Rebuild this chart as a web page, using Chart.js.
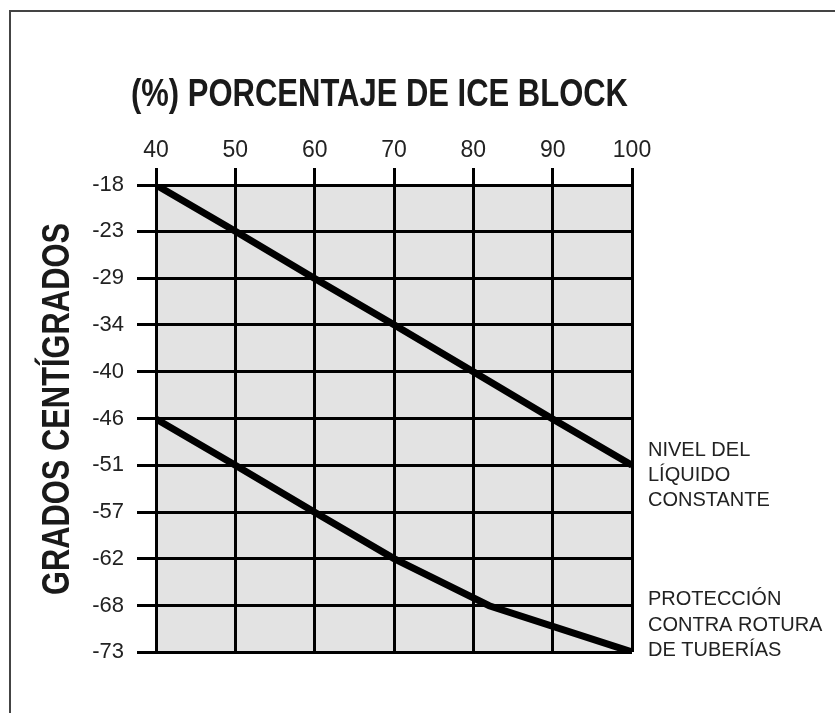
<!DOCTYPE html>
<html>
<head>
<meta charset="utf-8">
<script src="https://cdn.jsdelivr.net/npm/chart.js@4"></script>
<style>
    body { margin: 0; background: #fff; }
    #wrap { position: relative; width: 835px; height: 713px; }
    #frame { position: absolute; left: 9px; top: 10px; right: 0; bottom: 0;
             border-left: 2px solid #444; border-top: 2px solid #444; }
    #chart { position: absolute; left: 0; top: 0; }
</style>
</head>
<body>
<div id="wrap">
    <div id="frame"></div>
    <canvas id="chart" width="835" height="713"></canvas>
</div>
<script>
// x ticks (percentage)
const xTicks = [40, 50, 60, 70, 80, 90, 100];

// y ticks, degrees C (evenly spaced rows) and the printed labels
const yTickValues = [-17.8, -23.3, -28.9, -34.4, -40, -45.6, -51.1, -56.7, -62.2, -67.8, -73.3];
const yTickLabels = ['-18', '-23', '-29', '-34', '-40', '-46', '-51', '-57', '-62', '-68', '-73'];

// Nivel del liquido constante
const levelPct = [40, 50, 60, 70, 80, 90, 100];
const levelTemps = [-17.8, -23.3, -28.9, -34.4, -40, -45.6, -51.1];

// Proteccion contra rotura de tuberias
const protectPct = [40, 50, 60, 70, 82, 100];
const protectTemps = [-45.6, -51.1, -56.7, -62.2, -67.8, -73.3];

const titleText = '(%) PORCENTAJE DE ICE BLOCK';
const yTitleText = 'GRADOS CENTÍGRADOS';
const levelNote = ['NIVEL DEL', 'LÍQUIDO', 'CONSTANTE'];
const protectNote = ['PROTECCIÓN', 'CONTRA ROTURA', 'DE TUBERÍAS'];

const plain = "'Liberation Sans', Arial, Helvetica, sans-serif";

// bold text squeezed to a given width (no narrow font installed)
function squeezedText(ctx, text, width) {
    const w = ctx.measureText(text).width;
    ctx.save();
    ctx.scale(width / w, 1);
    ctx.fillText(text, 0, 0);
    ctx.restore();
}

// gray background of the grid + the loose texts
const extrasPlugin = {
    id: 'extras',
    beforeDraw(chart) {
        const { ctx, chartArea } = chart;
        ctx.save();
        ctx.fillStyle = '#e3e3e3';
        ctx.fillRect(chartArea.left, chartArea.top, chartArea.right - chartArea.left, chartArea.bottom - chartArea.top);
        ctx.restore();
    },
    afterDraw(chart) {
        const ctx = chart.ctx;
        ctx.save();
        ctx.fillStyle = '#1a1a1a';
        ctx.textBaseline = 'alphabetic';
        ctx.textAlign = 'left';
        ctx.font = 'bold 38px ' + plain;

        // main title
        ctx.save();
        ctx.translate(131, 106);
        squeezedText(ctx, titleText, 497);
        ctx.restore();

        // y title, rotated (baseline on the right side of the letters)
        ctx.save();
        ctx.translate(69, 595);
        ctx.rotate(-Math.PI / 2);
        squeezedText(ctx, yTitleText, 372);
        ctx.restore();

        ctx.fillStyle = '#222';
        ctx.font = '20px ' + plain;
        levelNote.forEach((t, i) => ctx.fillText(t, 648, 456 + i * 25));
        protectNote.forEach((t, i) => ctx.fillText(t, 648, 605 + i * 25.5));
        ctx.restore();
    }
};

const ctx = document.getElementById('chart').getContext('2d');

new Chart(ctx, {
    type: 'line',
    data: {
        datasets: [{
            data: levelPct.map((p, i) => ({ x: p, y: levelTemps[i] })),
            borderColor: '#000',
            borderWidth: 7,
            pointRadius: 0,
            tension: 0,
        }, {
            data: protectPct.map((p, i) => ({ x: p, y: protectTemps[i] })),
            borderColor: '#000',
            borderWidth: 7,
            pointRadius: 0,
            tension: 0,
        }],
    },
    options: {
        responsive: false,
        animation: false,
        layout: { padding: { left: 0, right: 203, top: 0, bottom: 61 } },
        plugins: {
            legend: { display: false },
            tooltip: { enabled: false },
        },
        scales: {
            x: {
                type: 'linear',
                position: 'top',
                min: 40,
                max: 100,
                afterBuildTicks: scale => { scale.ticks = xTicks.map(v => ({ value: v })); },
                afterFit: scale => { scale.height = 185; },
                grid: { color: '#000', lineWidth: 3, tickLength: 17 },
                border: { color: '#000', width: 3 },
                ticks: {
                    padding: 4,
                    color: '#222',
                    font: { family: plain, size: 23 },
                    maxRotation: 0,
                },
            },
            y: {
                type: 'linear',
                min: -73.3,
                max: -17.8,
                afterBuildTicks: scale => { scale.ticks = yTickValues.map(v => ({ value: v })); },
                afterFit: scale => { scale.width = 156; },
                grid: { color: '#000', lineWidth: 3, tickLength: 19 },
                border: { color: '#000', width: 3 },
                ticks: {
                    padding: 13,
                    color: '#222',
                    font: { family: plain, size: 22 },
                    callback: (value, index) => yTickLabels[index],
                },
            },
        },
    },
    plugins: [extrasPlugin],
});
</script>
</body>
</html>
